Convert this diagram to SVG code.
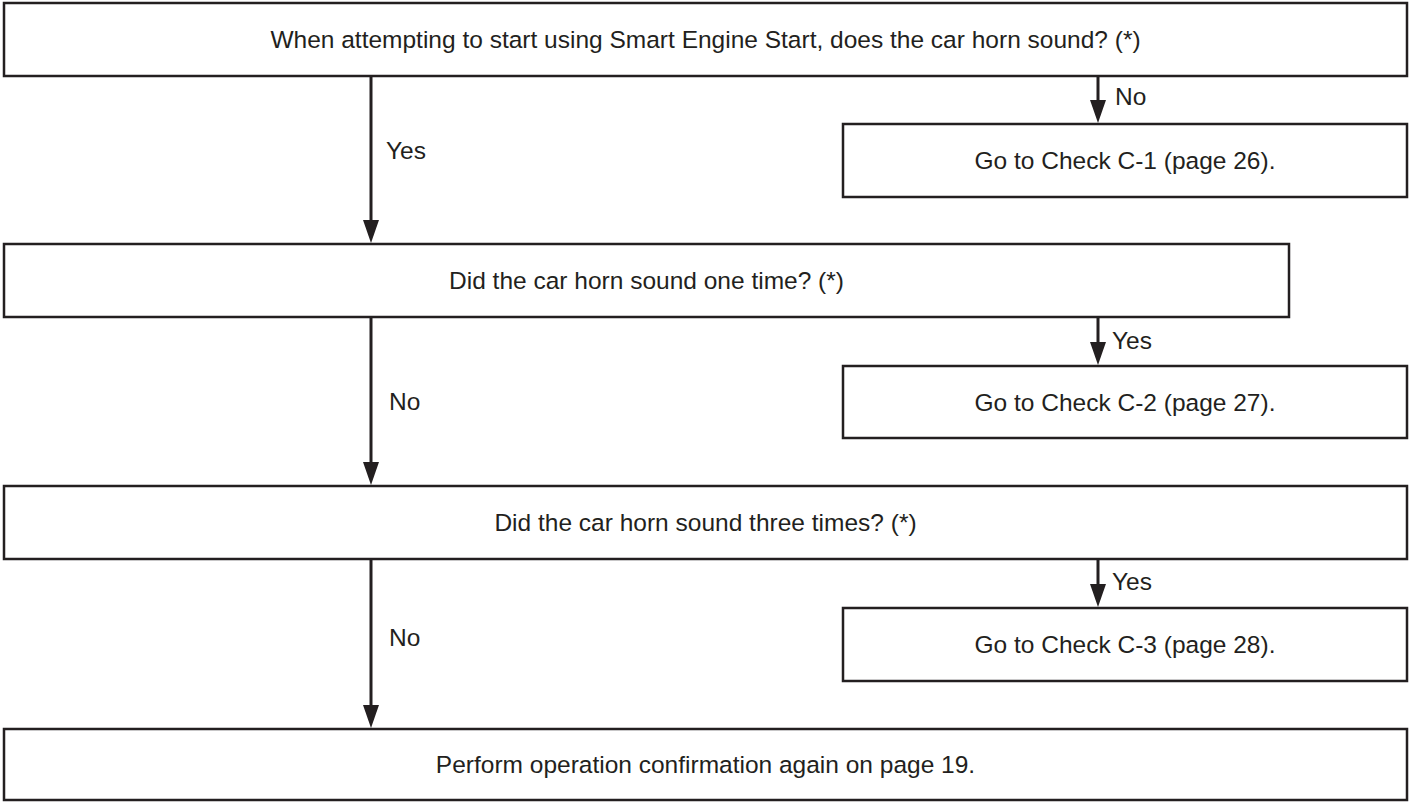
<svg xmlns="http://www.w3.org/2000/svg" width="1409" height="803" viewBox="0 0 1409 803">
<style>
.box{fill:#ffffff;stroke:#231f20;stroke-width:2.5}
.t{font-family:"Liberation Sans",Arial,sans-serif;font-size:24.5px;fill:#231f20}
.c{text-anchor:middle}
.conn{stroke:#231f20;stroke-width:3;fill:none}
</style>
<defs>
<marker id="ah" viewBox="0 0 23 16" refX="13" refY="8" markerWidth="23" markerHeight="16" markerUnits="userSpaceOnUse" orient="auto">
<path d="M0,0 L23,8 L0,16 z" fill="#231f20"/>
</marker>
</defs>
<rect width="1409" height="803" fill="#ffffff"/>
<g id="connectors">
<path class="conn" d="M371,77 V233" marker-end="url(#ah)"/>
<path class="conn" d="M1098,77 V113" marker-end="url(#ah)"/>
<path class="conn" d="M371,318 V475" marker-end="url(#ah)"/>
<path class="conn" d="M1098,318 V355" marker-end="url(#ah)"/>
<path class="conn" d="M1098,560 V597" marker-end="url(#ah)"/>
<path class="conn" d="M371,560 V718" marker-end="url(#ah)"/>
<text class="t" x="386" y="159">Yes</text>
<text class="t" x="1115" y="105">No</text>
<text class="t" x="389" y="410">No</text>
<text class="t" x="1112" y="349">Yes</text>
<text class="t" x="1112" y="590">Yes</text>
<text class="t" x="389" y="646">No</text>
</g>
<g id="q1">
<rect class="box" x="4" y="3" width="1403" height="73"/>
<text class="t c" x="705.5" y="48">When attempting to start using Smart Engine Start, does the car horn sound? (*)</text>
</g>
<g id="c1">
<rect class="box" x="843" y="124" width="564" height="73"/>
<text class="t c" x="1125" y="169">Go to Check C-1 (page 26).</text>
</g>
<g id="q2">
<rect class="box" x="4" y="244" width="1285" height="73"/>
<text class="t c" x="646.5" y="289">Did the car horn sound one time? (*)</text>
</g>
<g id="c2">
<rect class="box" x="843" y="366" width="564" height="72"/>
<text class="t c" x="1125" y="411">Go to Check C-2 (page 27).</text>
</g>
<g id="q3">
<rect class="box" x="4" y="486" width="1403" height="73"/>
<text class="t c" x="705.5" y="531">Did the car horn sound three times? (*)</text>
</g>
<g id="c3">
<rect class="box" x="843" y="608" width="564" height="73"/>
<text class="t c" x="1125" y="653">Go to Check C-3 (page 28).</text>
</g>
<g id="end">
<rect class="box" x="4" y="729" width="1403" height="71"/>
<text class="t c" x="705.5" y="773">Perform operation confirmation again on page 19.</text>
</g>
</svg>
